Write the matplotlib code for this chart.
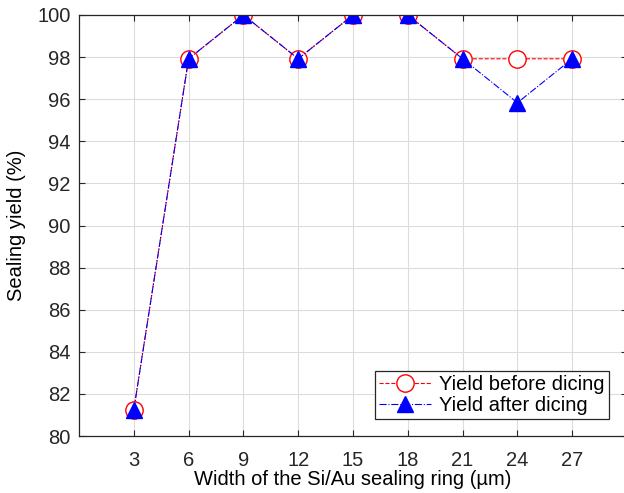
import matplotlib
matplotlib.use('Agg')
import matplotlib.pyplot as plt

# data (48 devices per width)
widths = [3, 6, 9, 12, 15, 18, 21, 24, 27]
yield_before = [81.25, 97.92, 100, 97.92, 100, 100, 97.92, 97.92, 97.92]
yield_after = [81.25, 97.92, 100, 97.92, 100, 100, 97.92, 95.83, 97.92]

plt.rcParams['font.family'] = ['Liberation Sans', 'DejaVu Sans']
fs = 14.5

fig = plt.figure(figsize=(6.24, 4.93), dpi=100)
ax = fig.add_axes([79/624, 57/493, 548/624, 421/493])

ax.plot(widths, yield_before, '--', color='red', linewidth=0.8,
        marker='o', markersize=12.5, markerfacecolor='white',
        markeredgecolor='red', markeredgewidth=1.0, label='Yield before dicing')
ax.plot(widths, yield_after, '-.', color='blue', linewidth=0.8,
        marker='^', markersize=11, markerfacecolor='blue',
        markeredgecolor='blue', label='Yield after dicing')

ax.set_xlim(0, 30)
ax.set_ylim(80, 100)
ax.set_xticks(widths)
ax.set_yticks(range(80, 101, 2))
ax.grid(True, color='#dcdcdc', linewidth=0.8)
ax.set_axisbelow(True)
ax.tick_params(direction='in', top=True, right=True, length=4,
               labelsize=fs, colors='#262626')
ax.tick_params(axis='x', pad=11)
ax.tick_params(axis='y', pad=6)
for s in ax.spines.values():
    s.set_color('#262626')
    s.set_linewidth(0.9)

ax.set_xlabel('Width of the Si/Au sealing ring (µm)', fontsize=fs, labelpad=0)
ax.set_ylabel('Sealing yield (%)', fontsize=fs, labelpad=8)

leg = ax.legend(loc='lower right', bbox_to_anchor=(0.967, 0.04), fontsize=fs,
                fancybox=False, edgecolor='#262626', framealpha=1,
                handlelength=2.6, borderpad=0.2, labelspacing=0.1,
                handletextpad=0.4, borderaxespad=0)
leg.get_frame().set_linewidth(0.9)

fig.savefig('out.png', dpi=100)
